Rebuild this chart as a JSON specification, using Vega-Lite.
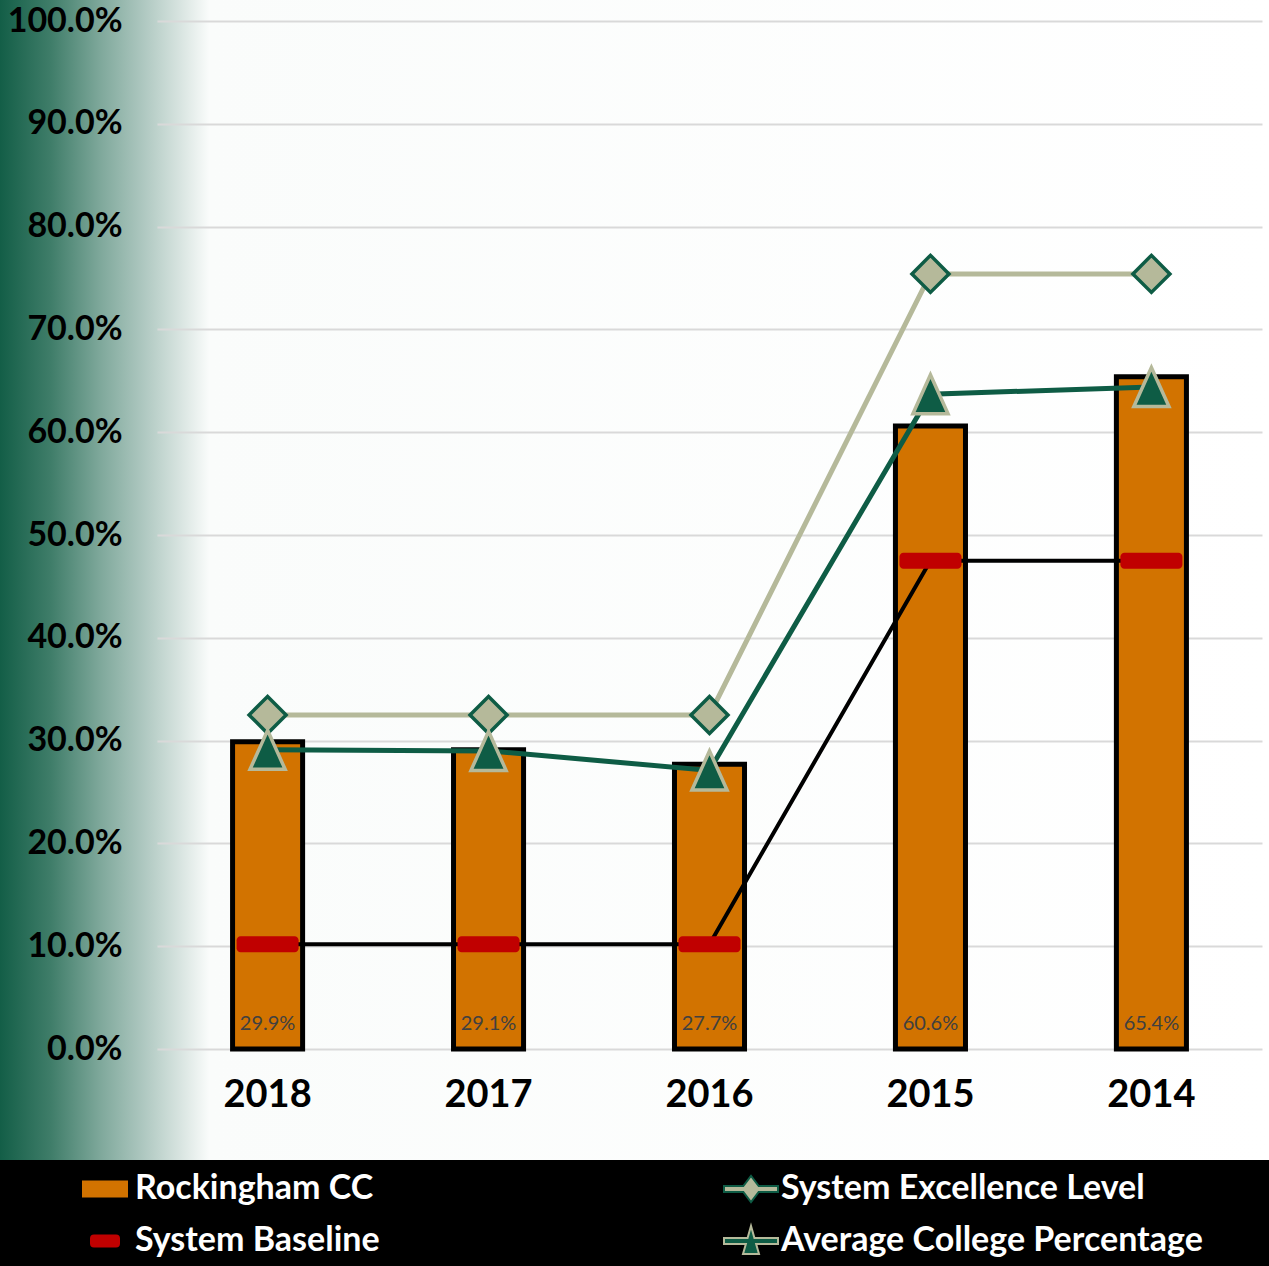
{
  "$schema": "https://vega.github.io/schema/vega-lite/v6.json",
  "width": 1269,
  "height": 1160,
  "autosize": {"type": "none"},
  "padding": {"left": 0, "right": 0, "top": 0, "bottom": 106},
  "background": "black",
  "view": {
    "stroke": null,
    "fill": {
      "gradient": "linear",
      "x1": 0, "y1": 0, "x2": 1, "y2": 0,
      "stops": [
        {"offset": 0, "color": "#135E47"},
        {"offset": 0.04, "color": "#3F7D69"},
        {"offset": 0.08, "color": "#80A99C"},
        {"offset": 0.11, "color": "#AAC5BD"},
        {"offset": 0.14, "color": "#D5E2DE"},
        {"offset": 0.165, "color": "#FAFCFB"},
        {"offset": 1, "color": "#FFFFFF"}
      ]
    }
  },
  "config": {
    "font": "Lato",
    "view": {"stroke": null}
  },
  "data": {
    "values": [
      {"year": "2018", "series": "Rockingham CC", "value": 0.299},
      {"year": "2017", "series": "Rockingham CC", "value": 0.291},
      {"year": "2016", "series": "Rockingham CC", "value": 0.277},
      {"year": "2015", "series": "Rockingham CC", "value": 0.606},
      {"year": "2014", "series": "Rockingham CC", "value": 0.654},
      {"year": "2018", "series": "System Baseline", "value": 0.102},
      {"year": "2017", "series": "System Baseline", "value": 0.102},
      {"year": "2016", "series": "System Baseline", "value": 0.102},
      {"year": "2015", "series": "System Baseline", "value": 0.475},
      {"year": "2014", "series": "System Baseline", "value": 0.475},
      {"year": "2018", "series": "System Excellence Level", "value": 0.325},
      {"year": "2017", "series": "System Excellence Level", "value": 0.325},
      {"year": "2016", "series": "System Excellence Level", "value": 0.325},
      {"year": "2015", "series": "System Excellence Level", "value": 0.754},
      {"year": "2014", "series": "System Excellence Level", "value": 0.754},
      {"year": "2018", "series": "Average College Percentage", "value": 0.291},
      {"year": "2017", "series": "Average College Percentage", "value": 0.290},
      {"year": "2016", "series": "Average College Percentage", "value": 0.271},
      {"year": "2015", "series": "Average College Percentage", "value": 0.637},
      {"year": "2014", "series": "Average College Percentage", "value": 0.644}
    ]
  },
  "encoding": {
    "x": {
      "field": "year",
      "type": "ordinal",
      "sort": ["2018", "2017", "2016", "2015", "2014"],
      "scale": {"range": [157, 1262], "paddingInner": 0.683, "paddingOuter": 0.342},
      "axis": {
        "orient": "bottom",
        "offset": -111,
        "title": null,
        "ticks": false,
        "domain": false,
        "labelAngle": 0,
        "labelFont": "Lato",
        "labelFontSize": 38,
        "labelFontWeight": "bold",
        "labelColor": "#000000",
        "labelPadding": 27
      }
    },
    "y": {
      "field": "value",
      "type": "quantitative",
      "scale": {"domain": [0, 1], "range": [1049, 21], "nice": false, "zero": true},
      "axis": {
        "orient": "left",
        "offset": -155,
        "title": null,
        "ticks": false,
        "domain": false,
        "values": [0, 0.1, 0.2, 0.3, 0.4, 0.5, 0.6, 0.7, 0.8, 0.9, 1.0],
        "format": ".1%",
        "labelFont": "Lato",
        "labelFontSize": 34,
        "labelFontWeight": "bold",
        "labelColor": "#000000",
        "labelPadding": 33,
        "grid": true,
        "gridColor": "#D9D9D9",
        "gridWidth": 2
      }
    }
  },
  "layer": [
    {
      "transform": [{"filter": "datum.series == 'Rockingham CC'"}],
      "mark": {"type": "bar", "color": "#D27300", "stroke": "#000000", "strokeWidth": 5}
    },
    {
      "transform": [{"filter": "datum.series == 'System Baseline'"}],
      "mark": {"type": "line", "color": "#000000", "strokeWidth": 4}
    },
    {
      "transform": [{"filter": "datum.series == 'System Baseline'"}],
      "mark": {"type": "tick", "color": "#C00000", "thickness": 16, "size": 62, "cornerRadius": 4, "opacity": 1}
    },
    {
      "transform": [{"filter": "datum.series == 'System Excellence Level'"}],
      "mark": {"type": "line", "color": "#B5B99A", "strokeWidth": 5}
    },
    {
      "transform": [{"filter": "datum.series == 'Average College Percentage'"}],
      "mark": {"type": "line", "color": "#0E5C45", "strokeWidth": 5}
    },
    {
      "transform": [{"filter": "datum.series == 'System Excellence Level'"}],
      "mark": {"type": "point", "shape": "diamond", "size": 1370, "filled": true, "fill": "#B5B99A", "stroke": "#0E5C45", "strokeWidth": 3.5, "opacity": 1}
    },
    {
      "transform": [{"filter": "datum.series == 'Average College Percentage'"}],
      "mark": {"type": "point", "shape": "M0,-1L-0.9,1L0.9,1Z", "size": 1521, "filled": true, "fill": "#0E5C45", "stroke": "#B5B99A", "strokeWidth": 3.5, "opacity": 1}
    },
    {
      "transform": [{"filter": "datum.series == 'Rockingham CC'"}],
      "mark": {"type": "text", "dy": -25, "font": "Lato", "fontSize": 20, "color": "#404040"},
      "encoding": {
        "y": {"datum": 0, "type": "quantitative"},
        "text": {"field": "value", "type": "quantitative", "format": ".1%"}
      }
    },
    {
      "mark": {"type": "point", "filled": true, "opacity": 0},
      "encoding": {
        "fill": {
          "field": "series",
          "type": "nominal",
          "scale": {
            "domain": ["Rockingham CC", "System Baseline", "System Excellence Level", "Average College Percentage"],
            "range": ["#D27300", "#C00000", "#B5B99A", "#0E5C45"]
          },
          "legend": {
            "title": null,
            "orient": "none",
            "legendX": 84,
            "legendY": 1168,
            "columns": 2,
            "columnPadding": 340,
            "rowPadding": 14,
            "symbolSize": 1600,
            "symbolStrokeWidth": 2,
            "symbolOpacity": 1,
            "labelFont": "Lato",
            "labelFontSize": 34,
            "labelFontWeight": "bold",
            "labelColor": "#FFFFFF",
            "labelLimit": 700,
            "labelOffset": 9,
            "padding": 0
          }
        },
        "stroke": {
          "field": "series",
          "type": "nominal",
          "scale": {
            "domain": ["Rockingham CC", "System Baseline", "System Excellence Level", "Average College Percentage"],
            "range": ["#D27300", "#C00000", "#0E5C45", "#B5B99A"]
          },
          "legend": {
            "title": null,
            "orient": "none",
            "legendX": 84,
            "legendY": 1168,
            "columns": 2,
            "columnPadding": 340,
            "rowPadding": 14,
            "symbolSize": 1600,
            "symbolStrokeWidth": 2,
            "symbolOpacity": 1,
            "labelFont": "Lato",
            "labelFontSize": 34,
            "labelFontWeight": "bold",
            "labelColor": "#FFFFFF",
            "labelLimit": 700,
            "labelOffset": 9,
            "padding": 0
          }
        },
        "shape": {
          "field": "series",
          "type": "nominal",
          "scale": {
            "domain": ["Rockingham CC", "System Baseline", "System Excellence Level", "Average College Percentage"],
            "range": [
              "M-1.1,-0.375H1.1V0.375H-1.1Z",
              "M-0.55,-0.28H0.55A0.15,0.15 0 0 1 0.7,-0.13V0.13A0.15,0.15 0 0 1 0.55,0.28H-0.55A0.15,0.15 0 0 1 -0.7,0.13V-0.13A0.15,0.15 0 0 1 -0.55,-0.28Z",
              "M-1.35,-0.15H-0.385L0,-0.65L0.385,-0.15H1.35V0.15H0.385L0,0.65L-0.385,0.15H-1.35Z",
              "M-1.35,-0.15H-0.171L0,-0.75L0.171,-0.15H1.35V0.15H0.257L0.4,0.65H-0.4L-0.257,0.15H-1.35Z"
            ]
          },
          "legend": {
            "title": null,
            "orient": "none",
            "legendX": 84,
            "legendY": 1168,
            "columns": 2,
            "columnPadding": 340,
            "rowPadding": 14,
            "symbolSize": 1600,
            "symbolStrokeWidth": 2,
            "symbolOpacity": 1,
            "labelFont": "Lato",
            "labelFontSize": 34,
            "labelFontWeight": "bold",
            "labelColor": "#FFFFFF",
            "labelLimit": 700,
            "labelOffset": 9,
            "padding": 0
          }
        }
      }
    }
  ]
}
